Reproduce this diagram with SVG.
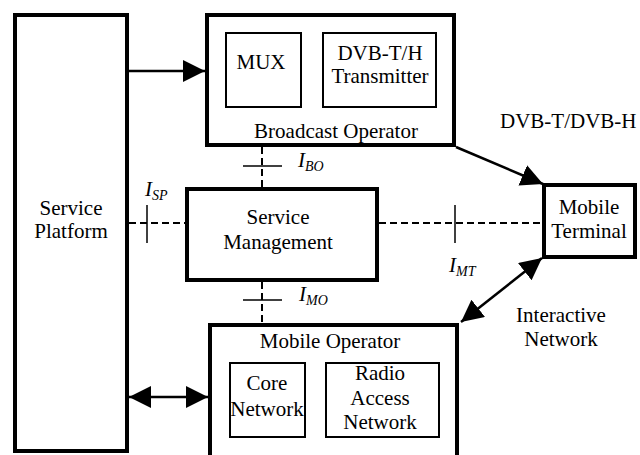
<svg xmlns="http://www.w3.org/2000/svg" width="640" height="455" viewBox="0 0 640 455">
<style>
  .outer { fill: #fff; stroke: #000; stroke-width: 4; }
  .inner { fill: #fff; stroke: #000; stroke-width: 2; }
  text { font-family: "Liberation Serif", "Times New Roman", serif; font-size: 21px; fill: #000; }
  .c { text-anchor: middle; }
  .it { font-style: italic; }
  .sub { font-size: 14px; font-style: italic; }
  .arrow { stroke: #000; stroke-width: 2.5; fill: none; }
  .dash { stroke: #000; stroke-width: 2; stroke-dasharray: 7 4; fill: none; }
  .tick { stroke: #000; stroke-width: 1.5; fill: none; }
</style>
<defs>
  <marker id="head" markerUnits="userSpaceOnUse" markerWidth="22" markerHeight="22" refX="22" refY="11" orient="auto-start-reverse" viewBox="0 0 22 22">
    <path d="M0,0 L22,11 L0,22 z" fill="#000"/>
  </marker>
</defs>
<rect width="640" height="455" fill="#fff"/>

<g id="connectors">
  <line class="arrow" x1="129" y1="71" x2="205" y2="71" marker-end="url(#head)"/>
  <line class="arrow" x1="129" y1="397" x2="208" y2="397" marker-start="url(#head)" marker-end="url(#head)"/>
  <line class="arrow" x1="456" y1="147" x2="543" y2="184" marker-end="url(#head)"/>
  <line class="arrow" x1="542" y1="258" x2="461" y2="322" marker-start="url(#head)" marker-end="url(#head)"/>
  <line class="dash" x1="129" y1="223" x2="185" y2="223"/>
  <line class="tick" x1="147" y1="205" x2="147" y2="243"/>
  <line class="dash" x1="379" y1="223" x2="542" y2="223"/>
  <line class="tick" x1="455" y1="205" x2="455" y2="243"/>
  <line class="dash" x1="262" y1="147" x2="262" y2="187"/>
  <line class="tick" x1="243" y1="166" x2="282" y2="166"/>
  <line class="dash" x1="262" y1="282" x2="262" y2="323"/>
  <line class="tick" x1="243" y1="300" x2="282" y2="300"/>
  <text x="145" y="196"><tspan class="it">I</tspan><tspan class="sub" dy="4">SP</tspan></text>
  <text x="298" y="167"><tspan class="it">I</tspan><tspan class="sub" dy="4">BO</tspan></text>
  <text x="299" y="301"><tspan class="it">I</tspan><tspan class="sub" dy="4">MO</tspan></text>
  <text x="449" y="272"><tspan class="it">I</tspan><tspan class="sub" dy="4">MT</tspan></text>
  <text x="500" y="128">DVB-T/DVB-H</text>
  <text class="c" x="561" y="322">Interactive</text>
  <text class="c" x="561" y="346">Network</text>
</g>

<g id="service-platform">
  <rect class="outer" x="15" y="15" width="112" height="436"/>
  <text class="c" x="71" y="215">Service</text>
  <text class="c" x="71" y="238">Platform</text>
</g>

<g id="broadcast-operator">
  <rect class="outer" x="207" y="15" width="247" height="130"/>
  <text class="c" x="336" y="138">Broadcast Operator</text>
</g>
<g id="mux">
  <rect class="inner" x="226" y="33" width="75" height="74"/>
  <text class="c" x="261" y="69">MUX</text>
</g>
<g id="dvb-transmitter">
  <rect class="inner" x="323" y="33" width="113" height="74"/>
  <text class="c" x="380" y="60">DVB-T/H</text>
  <text class="c" x="380" y="83">Transmitter</text>
</g>

<g id="service-management">
  <rect class="outer" x="187" y="189" width="190" height="91"/>
  <text class="c" x="278" y="224">Service</text>
  <text class="c" x="278" y="249">Management</text>
</g>

<g id="mobile-terminal">
  <rect class="outer" x="544" y="185" width="91" height="72"/>
  <text class="c" x="589" y="214">Mobile</text>
  <text class="c" x="589" y="238">Terminal</text>
</g>

<g id="mobile-operator">
  <rect class="outer" x="210" y="325" width="247" height="150"/>
  <text class="c" x="330" y="348">Mobile Operator</text>
</g>
<g id="core-network">
  <rect class="inner" x="230" y="363" width="75" height="74"/>
  <text class="c" x="267" y="390">Core</text>
  <text class="c" x="267" y="416">Network</text>
</g>
<g id="radio-access-network">
  <rect class="inner" x="326" y="363" width="113" height="74"/>
  <text class="c" x="380" y="380">Radio</text>
  <text class="c" x="380" y="405">Access</text>
  <text class="c" x="380" y="429">Network</text>
</g>
</svg>
